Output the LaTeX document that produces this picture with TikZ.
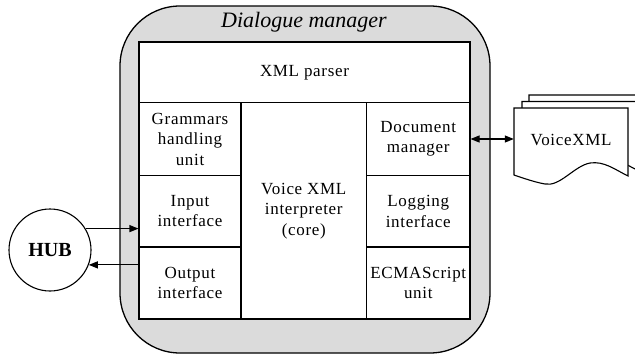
\documentclass[tikz,border=0pt]{standalone}
\usepackage{fontspec}
\setmainfont{Liberation Serif}
\usetikzlibrary{arrows.meta,calc}
\def\vxdocpath{(0,0) -- (114,0) -- (114,68) .. controls (100,61) and (90,53) .. (76,55) .. controls (60,58) and (46,79) .. (31,76) .. controls (20,74) and (9,70) .. (0,67) -- cycle}
\begin{document}
\begin{tikzpicture}[x=1pt,y=-1pt,
  cell/.style={draw, line width=1.1pt, inner sep=0pt, align=center,
    font=\fontsize{17}{20.5}\selectfont\addfontfeature{LetterSpace=4}},
  arr/.style={line width=1.1pt, -{Triangle[length=9pt,width=7pt]}},
  darr/.style={line width=1.1pt, {Triangle[length=9pt,width=7pt]}-{Triangle[length=9pt,width=7pt]}},
  docsty/.style={draw, fill=white, line width=1.1pt}]
\useasboundingbox (0,0) rectangle (635,354);
\fill[white] (0,0) rectangle (635,354);
% dialogue manager frame
\node[draw, line width=1.3pt, fill=black!14, rounded corners=60pt,
  minimum width=370pt, minimum height=347pt, inner sep=0pt] (dm) at (305,179.5) {};
\node[font=\fontsize{22}{26}\selectfont\itshape] (title) at (304,22) {Dialogue manager};
% cells
\node[cell, fill=white, minimum width=331pt, minimum height=60.5pt] (xml) at (304.5,72.25) {XML parser};
\node[cell, fill=white, minimum width=102pt, minimum height=73pt] (gram) at (190,139) {Grammars\\handling\\unit};
\node[cell, fill=white, minimum width=102pt, minimum height=71.5pt] (inp) at (190,211.25) {Input\\interface};
\node[cell, fill=white, minimum width=102pt, minimum height=72pt] (outp) at (190,283) {Output\\interface};
\node[cell, fill=white, minimum width=125.5pt, minimum height=216.5pt] (core) at (303.75,210.75) {Voice XML\\interpreter\\(core)};
\node[cell, fill=white, minimum width=103.5pt, minimum height=73pt] (docm) at (418.25,139) {Document\\manager};
\node[cell, fill=white, minimum width=103.5pt, minimum height=71.5pt] (logi) at (418.25,211.25) {Logging\\interface};
\node[cell, fill=white, minimum width=103.5pt, minimum height=72pt] (ecma) at (418.25,283) {ECMAScript\\unit};
% HUB
\node[draw, circle, line width=1.1pt, minimum size=82pt, inner sep=0pt,
  font=\fontsize{20}{24}\selectfont\bfseries] (hub) at (50,250) {HUB};
\draw[arr] (hub.31) -- (hub.31 -| inp.west);
\draw[arr] (hub.-21.5 -| outp.west) -- (hub.-21.5);
% VoiceXML documents
\begin{scope}
\clip (0,0) rectangle (635,354);
\draw[docsty, shift={(529,95)}] \vxdocpath;
\draw[docsty, shift={(522,101.5)}] \vxdocpath;
\draw[docsty, shift={(514,108)}] \vxdocpath;
\end{scope}
\node[font=\fontsize{17}{20.5}\selectfont\addfontfeature{LetterSpace=4}, minimum width=114pt, minimum height=64pt, inner sep=0pt] (vx) at (571,140) {VoiceXML};
\draw[darr] (docm.east) -- (docm.east -| vx.west);
\end{tikzpicture}
\end{document}
